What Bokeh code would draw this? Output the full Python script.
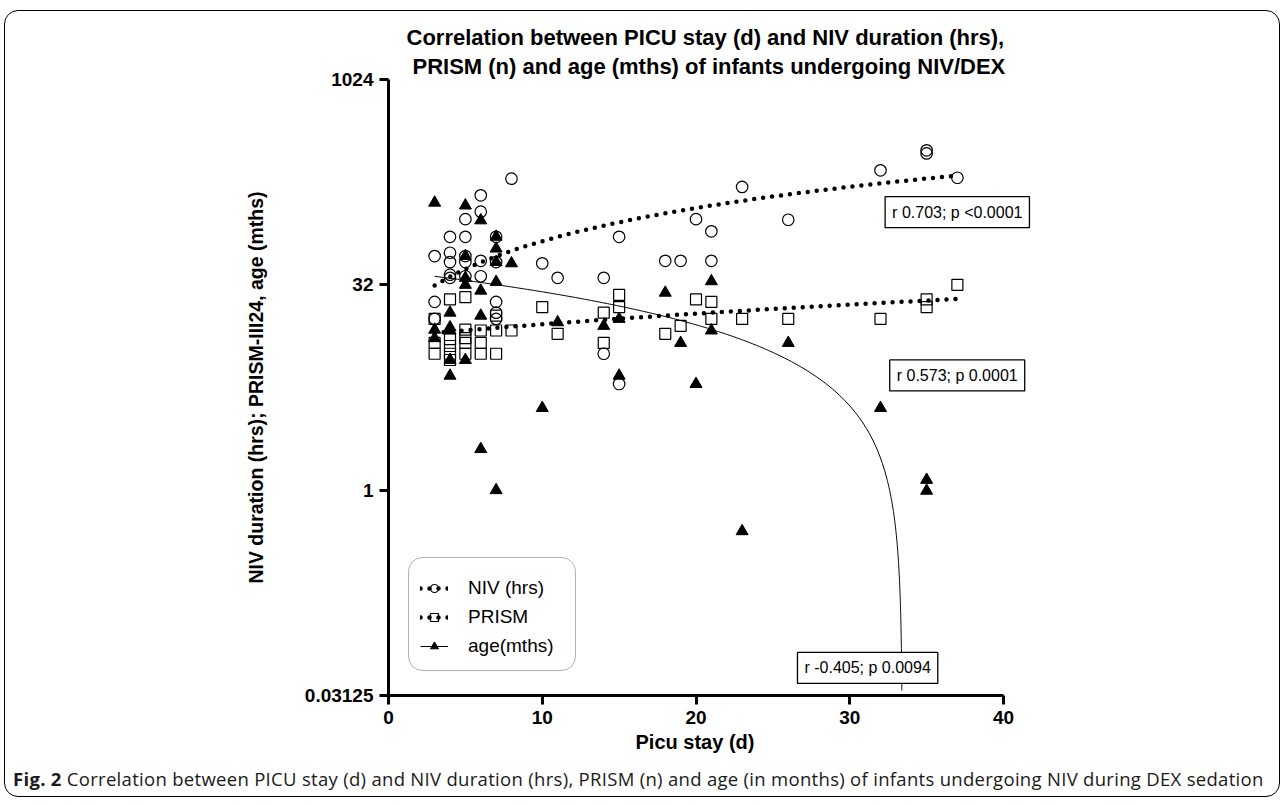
import numpy as np
from bokeh.plotting import figure
from bokeh.layouts import column
from bokeh.models import FixedTicker, Label, Legend, LegendItem, BoxAnnotation, Title, Div
from bokeh.embed import file_html
from bokeh.resources import INLINE

# ---------------- data ----------------
niv_x = [3, 3, 3, 4, 4, 4, 4, 4, 5, 5, 5, 5, 5, 6, 6, 6, 6, 7, 7, 7, 7, 7,
         8, 10, 11, 14, 14, 15, 15, 18, 19, 20, 21, 21, 23, 26, 32, 35, 35, 37]
niv_y = [52, 24, 18, 72, 55, 47, 38, 36, 97, 72, 52, 47, 37, 145, 110, 48, 37, 72, 47, 24, 20, 18,
         192, 46, 36, 36, 10, 72, 6, 48, 48, 97, 79, 48, 167, 96, 221, 310, 294, 195]

prism_x = [3, 3, 3, 4, 4, 4, 4, 4, 5, 5, 5, 5, 5, 6, 6, 6, 7, 7, 7,
           8, 10, 11, 14, 14, 15, 15, 18, 19, 20, 21, 21, 23, 26, 32, 35, 35, 37]
prism_y = [18, 12, 10, 25, 12.8, 11.4, 10, 9, 26, 15, 13, 12, 10, 14.8, 12, 10, 19, 14.8, 10,
           14.8, 22, 14, 20, 12, 27, 22, 14, 16, 25, 24, 18, 18, 18, 18, 25, 22, 32]

age_x = [3, 3, 3, 4, 4, 4, 4, 4, 5, 5, 5, 5, 5, 6, 6, 6, 6, 7, 7, 7, 7, 7,
         8, 10, 11, 14, 15, 15, 18, 19, 20, 21, 21, 23, 26, 32, 35, 35]
age_y = [128, 15, 13, 20, 15.6, 14.8, 9, 6.9, 122, 52, 36, 32, 9, 95, 29, 19, 2, 72, 59, 47, 33.6, 1.0,
         46, 4, 17, 16, 18, 6.9, 28, 12, 6, 34, 14.8, 0.5, 12, 4, 1.19, 0.99]

# linear regression lines (intercept, slope)
niv_fit = (16.6, 5.02)
prism_fit = (13.2, 0.324)
age_fit = (40.6, -1.215)
fit_x_range = (3, 37)

x_ticks = [0, 10, 20, 30, 40]
y_ticks = [0.03125, 1, 32, 1024]
y_tick_labels = ["0.03125", "1", "32", "1024"]

title_lines = ["Correlation between PICU stay (d) and NIV duration (hrs),",
               "PRISM (n) and age (mths) of infants undergoing NIV/DEX"]
x_label = "Picu stay (d)"
y_label = "NIV duration (hrs); PRISM-III24, age (mths)"
legend_labels = ["NIV (hrs)", "PRISM", "age(mths)"]
r_texts = ["r 0.703; p <0.0001", "r 0.573; p 0.0001", "r -0.405; p 0.0094"]
caption_bold = "Fig. 2"
caption_rest = ("Correlation between PICU stay (d) and NIV duration (hrs), PRISM (n) and age "
                "(in months) of infants undergoing NIV during DEX sedation")

FONT = "Liberation Sans"

# ---------------- figure ----------------
PW, PH = 1271, 750
CAP_H = 32
MB_L, MB_R, MB_T, MB_B = 383, 216, 68, 66
frame_w = PW - MB_L - MB_R
x_max = 40 * frame_w / 615.0          # room on the right for the r/p boxes

p = figure(width=PW, height=PH, x_range=(0, x_max), y_range=(0.03125, 1024),
           y_axis_type="log", output_backend="svg", toolbar_location=None,
           min_border_left=MB_L, min_border_right=MB_R, min_border_top=MB_T,
           min_border_bottom=MB_B)
p.grid.visible = False
p.outline_line_color = None
p.background_fill_color = "white"
p.border_fill_alpha = 0

p.xaxis.ticker = FixedTicker(ticks=x_ticks)
p.xaxis.bounds = (0, 40)
p.yaxis.ticker = FixedTicker(ticks=y_ticks)
p.yaxis.major_label_overrides = {t: l for t, l in zip(y_ticks, y_tick_labels)}
for ax in (p.xaxis, p.yaxis):
    ax.axis_line_width = 3
    ax.axis_line_color = "black"
    ax.major_tick_line_width = 3
    ax.major_tick_line_color = "black"
    ax.major_tick_out = 9
    ax.major_tick_in = 0
    ax.minor_tick_line_color = None
    ax.major_label_text_font = FONT
    ax.major_label_text_font_style = "bold"
    ax.major_label_text_font_size = "19px"
    ax.major_label_text_color = "black"
    ax.axis_label_text_font = FONT
    ax.axis_label_text_font_style = "bold"
    ax.axis_label_text_font_size = "19.5px"
    ax.axis_label_text_color = "black"
p.xaxis.major_label_standoff = 6
p.yaxis.major_label_standoff = 6
p.yaxis.axis_label = y_label
p.yaxis.axis_label_standoff = 35

# x-axis label (placed as a title below so it centres on the drawn axis)
p.add_layout(Title(text=x_label, align="left", offset=247, standoff=5,
                   text_font=FONT, text_font_style="bold", text_font_size="20px",
                   text_color="black"), "below")
# two-line title above (second line nearest the plot)
p.add_layout(Title(text=title_lines[1], align="left", offset=24, standoff=2,
                   text_font=FONT, text_font_style="bold", text_font_size="22px",
                   text_color="black"), "above")
p.add_layout(Title(text=title_lines[0], align="left", offset=18, standoff=1,
                   text_font=FONT, text_font_style="bold", text_font_size="22px",
                   text_color="black"), "above")

# fit lines
fx = np.linspace(fit_x_range[0], fit_x_range[1], 200)
niv_line = p.line(fx, niv_fit[0] + niv_fit[1] * fx, line_color="black", line_width=4.5,
                  line_dash="0 9", line_cap="round")
prism_line = p.line(fx, prism_fit[0] + prism_fit[1] * fx, line_color="black", line_width=4.5,
                    line_dash="0 9", line_cap="round")
x_zero = -age_fit[0] / age_fit[1]
ax_ = np.concatenate([np.linspace(fit_x_range[0], x_zero - 1, 200),
                      x_zero - np.geomspace(1, 1e-4, 300)])
ay_ = age_fit[0] + age_fit[1] * ax_
keep = ay_ > 0.034
age_line = p.line(ax_[keep], ay_[keep], line_color="black", line_width=1)

# points
niv_pts = p.scatter(niv_x, niv_y, marker="circle", size=11.5, fill_color=None,
                    line_color="black", line_width=1.2)
prism_pts = p.scatter(prism_x, prism_y, marker="square", size=11, fill_color=None,
                      line_color="black", line_width=1.2)
age_pts = p.scatter(age_x, age_y, marker="triangle", size=12, fill_color="black",
                    line_color="black", line_width=1)

# r / p annotation boxes
for txt, (lx, ly) in zip(r_texts, [(32.3, 109), (32.6, 6.93), (26.6, 0.0498)]):
    p.add_layout(Label(x=lx, y=ly, text=txt, text_font=FONT, text_font_size="16px",
                       text_baseline="middle", text_align="left", text_color="black",
                       border_line_color="black", border_line_width=1.3,
                       background_fill_color="white", padding=7))

# legend frame (rounded) + legend
p.add_layout(BoxAnnotation(left=20, right=187, bottom=25, top=138,
                           left_units="screen", right_units="screen",
                           bottom_units="screen", top_units="screen",
                           fill_color="white", fill_alpha=1, line_color="black",
                           line_width=1, border_radius=14, level="annotation"))
legend = Legend(items=[LegendItem(label=legend_labels[0], renderers=[niv_line, niv_pts]),
                       LegendItem(label=legend_labels[1], renderers=[prism_line, prism_pts]),
                       LegendItem(label=legend_labels[2], renderers=[age_line, age_pts])],
                location=(32, 36), border_line_color=None, background_fill_alpha=0,
                label_text_font=FONT, label_text_font_size="19px", label_text_color="black",
                glyph_width=28, glyph_height=20, label_standoff=20, padding=12, spacing=3,
                label_height=26, margin=0)
p.add_layout(legend, "center")

# caption below the chart
cap = Div(text=(f'<div style="font-family:\'Open Sans\',sans-serif;font-size:18.5px;'
                f'letter-spacing:0.3px;line-height:26px;white-space:nowrap;'
                f'padding-left:3px;color:#1a1a1a">'
                f'<b>{caption_bold}</b> {caption_rest}</div>'),
          width=PW, height=CAP_H)

layout = column(p, cap, width=PW + 3, height=PH + CAP_H + 3,
                styles={"border": "1.5px solid black", "border-radius": "14px",
                        "margin-left": "4px", "margin-top": "10px",
                        "box-sizing": "content-box"})

open("out.html", "w").write(file_html(layout, INLINE))
